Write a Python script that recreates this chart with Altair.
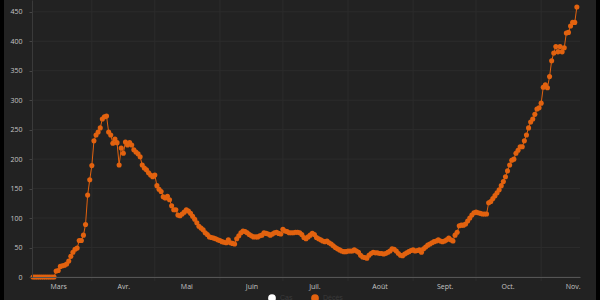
import altair as alt
import pandas as pd

# ---- data ----
start_date = "2020-03-04"
values = [
    0, 0, 0, 0, 0, 0, 0, 0, 0, 0, 0,
    10, 11, 18, 19, 20, 22, 27, 35, 42, 47, 49, 62, 62, 71, 89, 139, 165, 189,
    231, 241, 246, 253, 268, 272, 273, 246, 241, 227, 234, 228, 190, 219, 210,
    229, 224, 228, 224, 216, 212, 209, 204, 190, 185, 182, 177, 173, 170, 173,
    155, 149, 145, 136, 134, 137, 131, 121, 114, 114, 105,
    104, 107, 110, 114, 112, 108, 103, 98, 92, 86, 83, 80, 75, 72, 68, 67, 66,
    65, 63, 62, 60, 59, 58, 63, 58, 57, 56, 65, 70, 75, 78, 77, 75, 72, 70, 68,
    68, 68, 70, 71, 75, 74, 73, 71, 73, 75, 76, 74, 73, 81, 78, 77, 75, 75, 75,
    76, 76, 75, 72, 67, 65, 68, 71, 74, 72, 67, 65, 63, 61, 60, 61, 58, 56, 53,
    50, 48, 46, 44, 43, 43, 44, 44, 44, 46, 44, 42, 37, 34, 33, 32, 37, 40, 42,
    41, 41, 40, 40, 39, 40, 42, 44, 48, 47, 44, 40, 37, 36, 39, 41, 43, 45, 46,
    44, 45, 46, 42, 48, 51, 54, 56, 58, 60, 61, 63, 61, 60, 61, 63, 66, 63, 61,
    71, 76, 87, 88, 88, 90, 95, 100, 105, 109, 110, 109, 108, 107, 107, 107,
    126, 128, 133, 138, 143, 148, 155, 162, 170, 180, 190, 198, 200, 210, 215,
    221, 221, 231, 241, 253, 263, 268, 276, 285, 287, 295, 322, 326, 321, 340,
    367, 380, 391, 382, 391, 382, 389, 414, 415, 426, 432, 432, 458,
]
series_names = ["Cas", "Décès"]
series_colors = ["#ffffff", "#e2620f"]
month_labels = ["Janv.", "Févr.", "Mars", "Avr.", "Mai", "Juin", "Juil.",
                "Août", "Sept.", "Oct.", "Nov.", "Déc."]
label_dates = ["2020-03-16", "2020-04-16", "2020-05-16", "2020-06-16",
               "2020-07-16", "2020-08-16", "2020-09-16", "2020-10-16",
               "2020-11-16"]
grid_dates = ["2020-04-01", "2020-05-01", "2020-06-01", "2020-07-01",
              "2020-08-01", "2020-09-01", "2020-10-01", "2020-11-01"]
y_ticks = [0, 50, 100, 150, 200, 250, 300, 350, 400, 450]

dates = pd.date_range(start_date, periods=len(values), freq="D")
df = pd.DataFrame({"date": dates.strftime("%Y-%m-%dT00:00:00"),
                   "value": values, "serie": series_names[1]})
grid_df = pd.DataFrame({"date": [d + "T00:00:00" for d in grid_dates]})
hgrid_df = pd.DataFrame({"value": y_ticks})
bg_df = pd.DataFrame({"k": [0]})

W, H = 548, 277
PAD_L, PAD_R, PAD_B = 32, 20, 23
x_scale = alt.Scale(domain=[alt.DateTime(year=2020, month=3, date=3, hours=12),
                            alt.DateTime(year=2020, month=11, date=19, hours=12)])
y_scale = alt.Scale(domain=[0, 470], nice=False)

label_expr = "[" + ",".join("'%s'" % m for m in month_labels) + "][month(datum.value)]"

x_axis = alt.Axis(values=[alt.DateTime(year=2020, month=int(d[5:7]), date=16)
                          for d in label_dates],
                  labelExpr=label_expr, grid=False, ticks=False, zindex=1,
                  domainColor="#555555", labelColor="#c4c4c4", labelFontSize=7,
                  labelPadding=5, title=None, labelFont="Open Sans")
y_axis = alt.Axis(values=y_ticks, grid=False, zindex=1,
                  tickColor="#444444", tickSize=3, domainColor="#3a3a3a",
                  labelColor="#c4c4c4", labelFontSize=7, labelPadding=7,
                  title=None, labelFont="Open Sans")

# dark panel, leaving thin black edges left and right
panel = alt.Chart(bg_df).mark_rect(color="#222222").encode(
    x=alt.value(4 - PAD_L), x2=alt.value(W + PAD_R - 4),
    y=alt.value(0), y2=alt.value(H + PAD_B),
)

vgrid = alt.Chart(grid_df).mark_rule(color="#2c2c2c", strokeWidth=1).encode(
    x=alt.X("date:T", scale=x_scale, axis=x_axis),
    y=alt.value(0), y2=alt.value(H + 4),
)
hgrid = alt.Chart(hgrid_df).mark_rule(color="#2c2c2c", strokeWidth=1).encode(
    y=alt.Y("value:Q", scale=y_scale, axis=y_axis),
    x=alt.value(0), x2=alt.value(W),
)

base = alt.Chart(df).encode(
    x=alt.X("date:T", scale=x_scale, axis=x_axis),
    y=alt.Y("value:Q", scale=y_scale, axis=y_axis),
)
color = alt.Color("serie:N",
                  scale=alt.Scale(domain=series_names, range=series_colors),
                  legend=alt.Legend(orient="none", direction="horizontal",
                                    legendX=236, legendY=H + 17, title=None,
                                    symbolType="circle", symbolSize=60,
                                    labelColor="#3a3a3a", labelFontSize=7,
                                    columnPadding=18, symbolStrokeWidth=0))
line = base.mark_line(strokeWidth=1).encode(color=color)
pts = base.mark_circle(size=26, opacity=1).encode(color=color)

chart = alt.layer(panel, hgrid, vgrid, line, pts).properties(
    width=W, height=H,
    background="#000000",
    padding={"left": PAD_L, "top": 0, "right": PAD_R, "bottom": PAD_B},
    autosize=alt.AutoSizeParams(type="none"),
).configure_view(stroke=None)

chart.save("out.html", embed_options={"renderer": "svg", "actions": False})
